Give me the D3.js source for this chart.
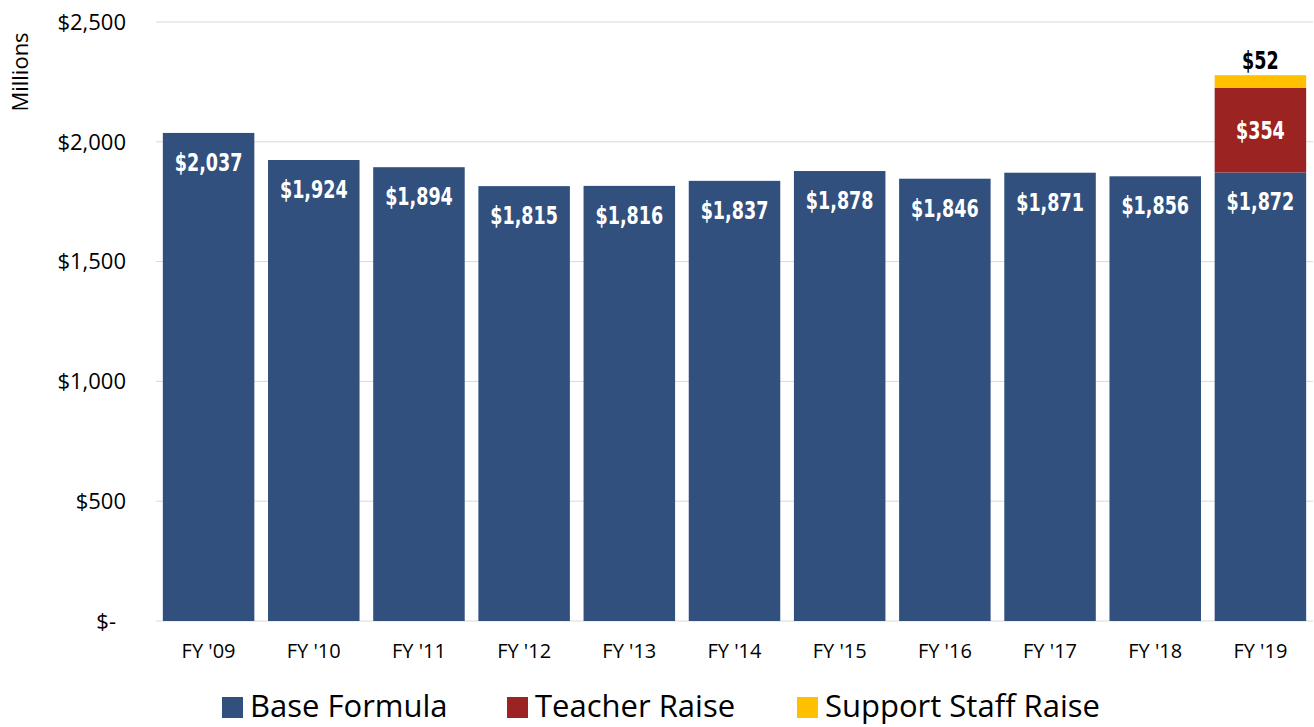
<!DOCTYPE html>
<html>
<head>
<meta charset="utf-8">
<script src="https://cdn.jsdelivr.net/npm/d3@7"></script>
<style>
  body { margin: 0; background: #fff; }
  text { font-family: "Open Sans", "Noto Sans", sans-serif; }
  .bar-label { font-family: "DejaVu Sans Condensed", "DejaVu Sans", sans-serif; font-weight: bold; }
</style>
</head>
<body>
<script>
const years = ["FY '09", "FY '10", "FY '11", "FY '12", "FY '13", "FY '14", "FY '15", "FY '16", "FY '17", "FY '18", "FY '19"];
const baseFormula = [2037, 1924, 1894, 1815, 1816, 1837, 1878, 1846, 1871, 1856, 1872];
const teacherRaise = [0, 0, 0, 0, 0, 0, 0, 0, 0, 0, 354];
const supportRaise = [0, 0, 0, 0, 0, 0, 0, 0, 0, 0, 52];
const yTicks = [0, 500, 1000, 1500, 2000, 2500];
const seriesNames = ["Base Formula", "Teacher Raise", "Support Staff Raise"];

const w = 1314;
const h = 727;
const colors = ["#31507e", "#9b2321", "#ffc000"];
const squeeze = 0.78; // condensed look for the value labels

const rows = years.map((y, i) => ({ year: y, base: baseFormula[i], teacher: teacherRaise[i], support: supportRaise[i] }));
const stack = d3.stack().keys(["base", "teacher", "support"])(rows);

const x = d3.scaleBand().domain(years).range([156, 1313]).paddingInner(0.13).paddingOuter(0.065);
const y = d3.scaleLinear().domain([0, 2500]).range([621, 22]);

const svg = d3.select("body").append("svg").attr("width", w).attr("height", h);

// gridlines
svg.append("g").selectAll("line").data(yTicks).enter().append("line")
  .attr("x1", 156).attr("x2", 1313)
  .attr("y1", d => y(d)).attr("y2", d => y(d))
  .attr("stroke", "#d9d9d9").attr("stroke-width", 1);

// y tick labels
const fmt = d3.format(",");
svg.append("g").selectAll("text").data(yTicks).enter().append("text")
  .attr("x", d => d === 0 ? 116 : 126)
  .attr("y", d => y(d))
  .attr("dy", "0.35em")
  .attr("text-anchor", "end")
  .style("font-size", "22px")
  .style("fill", "#000")
  .text(d => d === 0 ? "$-" : "$" + fmt(d));

svg.append("text")
  .attr("transform", "translate(28,72)rotate(-90)")
  .attr("text-anchor", "middle")
  .style("font-size", "22px")
  .text("Millions");

// bars
stack.forEach((s, si) => {
  svg.append("g").selectAll("rect").data(s.filter(d => d[1] > d[0])).enter().append("rect")
    .attr("x", d => x(d.data.year))
    .attr("width", x.bandwidth())
    .attr("y", d => y(d[1]))
    .attr("height", d => y(d[0]) - y(d[1]))
    .attr("fill", colors[si]);
});

function valueLabel(sel, fill) {
  sel.append("text")
    .attr("class", "bar-label")
    .attr("transform", d => `translate(${d.cx},${d.cy}) scale(${squeeze},1)`)
    .attr("text-anchor", "middle")
    .style("font-size", "25px")
    .style("fill", fill)
    .text(d => d.txt);
}

const cx = yr => x(yr) + x.bandwidth() / 2;

// base labels
svg.append("g").selectAll("g").data(rows.map(d => ({ cx: cx(d.year), cy: y(d.base) + 38, txt: "$" + fmt(d.base) })))
  .enter().call(valueLabel, "#fff");

// teacher raise labels
svg.append("g").selectAll("g").data(rows.filter(d => d.teacher > 0)
  .map(d => ({ cx: cx(d.year), cy: y(d.base + d.teacher / 2) + 9, txt: "$" + fmt(d.teacher) })))
  .enter().call(valueLabel, "#fff");

// support staff labels
svg.append("g").selectAll("g").data(rows.filter(d => d.support > 0)
  .map(d => ({ cx: cx(d.year), cy: y(d.base + d.teacher + d.support) - 6, txt: "$" + fmt(d.support) })))
  .enter().call(valueLabel, "#000");

// x axis labels
svg.append("g").selectAll("text").data(years).enter().append("text")
  .attr("x", d => cx(d))
  .attr("y", 658)
  .attr("text-anchor", "middle")
  .style("font-size", "20px")
  .text(d => d);

// legend
const legendX = [222, 507, 797];
const legend = svg.append("g").selectAll("g").data(seriesNames).enter().append("g")
  .attr("transform", (d, i) => `translate(${legendX[i]}, 697)`);

legend.append("rect")
  .attr("width", 21).attr("height", 21)
  .attr("fill", (d, i) => colors[i]);

legend.append("text")
  .attr("x", 28).attr("y", 20)
  .style("font-size", "31px")
  .text(d => d);
</script>
</body>
</html>
